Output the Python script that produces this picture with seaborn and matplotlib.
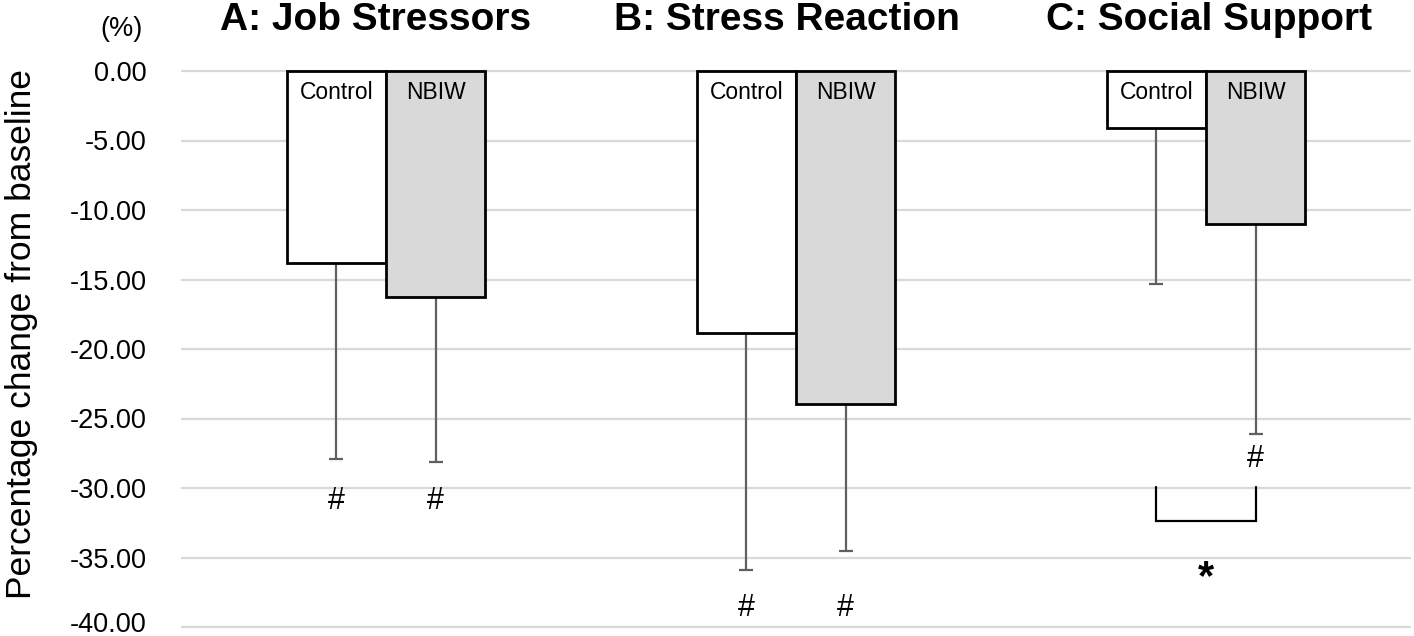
import matplotlib
matplotlib.use("Agg")
import matplotlib.pyplot as plt
import matplotlib.transforms as mtransforms
import seaborn as sns
import pandas as pd
import numpy as np

# ---- data ----
scales = ["A: Job Stressors", "B: Stress Reaction", "C: Social Support"]
groups = ["Control", "NBIW"]
control_mean = [-13.83, -18.85, -4.12]
nbiw_mean = [-16.24, -23.96, -11.03]
control_sd = [14.11, 17.05, 11.20]
nbiw_sd = [11.91, 10.55, 15.08]
hash_y_control = [-30.9, -38.6, None]
hash_y_nbiw = [-30.9, -38.6, -27.9]
yticks = [0, -5, -10, -15, -20, -25, -30, -35, -40]

df = pd.DataFrame({
    "scale": scales * 2,
    "group": [groups[0]] * 3 + [groups[1]] * 3,
    "value": control_mean + nbiw_mean,
})

sns.set_theme(style="white")
plt.rcParams["font.family"] = ["Liberation Sans", "DejaVu Sans"]

W, H = 1414, 636
fig = plt.figure(figsize=(W / 100, H / 100), dpi=100)
ymin, ymax = -40.2, 0.2
ppu = 556 / 40.0
top_px = 71 - (ymax - 0) * ppu
bot_px = 627 + (-40 - ymin) * ppu
ax = fig.add_axes([181 / W, 1 - bot_px / H, (1411 - 181) / W, (bot_px - top_px) / H])

sns.barplot(data=df, x="scale", y="value", hue="group", hue_order=groups,
            palette={"Control": "white", "NBIW": "#d9d9d9"},
            edgecolor="black", linewidth=2.0, width=0.483, gap=0,
            errorbar=None, legend=False, ax=ax, zorder=3)

sds = [control_sd, nbiw_sd]
hashes = [hash_y_control, hash_y_nbiw]
centers = {}
bar_conts = list(ax.containers)
for j, cont in enumerate(bar_conts):
    for i, bar in enumerate(cont.patches):
        xc = bar.get_x() + bar.get_width() / 2
        yv = bar.get_y() + bar.get_height()
        centers[(j, i)] = xc
        ax.errorbar([xc], [yv], yerr=[[sds[j][i]], [0]], fmt="none",
                    ecolor="#606060", elinewidth=1.6, capsize=5, capthick=1.6,
                    zorder=2)
        ax.text(xc, -1.55, groups[j], ha="center", va="center",
                fontsize=16.5, color="black", zorder=5)
        hy = hashes[j][i]
        if hy is not None:
            ax.text(xc, hy, "#", ha="center", va="center", fontsize=22,
                    color="black", zorder=5)

# bracket for C
x0, x1 = centers[(0, 2)], centers[(1, 2)]
ax.plot([x0, x0, x1, x1], [-29.9, -32.4, -32.4, -29.9], color="black",
        lw=1.6, zorder=4, solid_joinstyle="miter")
ax.text((x0 + x1) / 2, -36.5, "*", ha="center", va="center", fontsize=30,
        fontweight="bold", color="black")

ax.set_xlim(-0.5, 2.5)
ax.set_ylim(ymin, ymax)
ax.set_yticks(yticks)
ax.set_yticklabels([f"{v:.2f}" for v in yticks])
ax.tick_params(axis="y", length=0, pad=25, labelsize=19.5, labelcolor="black")
ax.tick_params(axis="x", length=0, labelbottom=False)
ax.set_xlabel("")
ax.set_ylabel("")
ax.yaxis.grid(True, color="#d9d9d9", lw=1.6, zorder=0)
ax.xaxis.grid(False)
ax.set_axisbelow(True)
for s in ax.spines.values():
    s.set_visible(False)
# keep the lowest tick label inside the canvas
last = ax.get_yticklabels()[-1]
last.set_transform(last.get_transform() +
                   mtransforms.ScaledTranslation(0, 5 / 100, fig.dpi_scale_trans))

# titles
title_px = [376, 787, 1209]
for t, px in zip(scales, title_px):
    fig.text(px / W, 1 - 20 / H, t, ha="center", va="center",
             fontsize=28, fontweight="bold", color="black")

fig.text(122 / W, 1 - 29 / H, "(%)", ha="center", va="center", fontsize=19.5,
         color="black")
fig.text(22 / W, 1 - 334 / H, "Percentage change from baseline", rotation=90,
         ha="center", va="center", fontsize=25.5, color="black")

fig.savefig("out.png", dpi=100)
